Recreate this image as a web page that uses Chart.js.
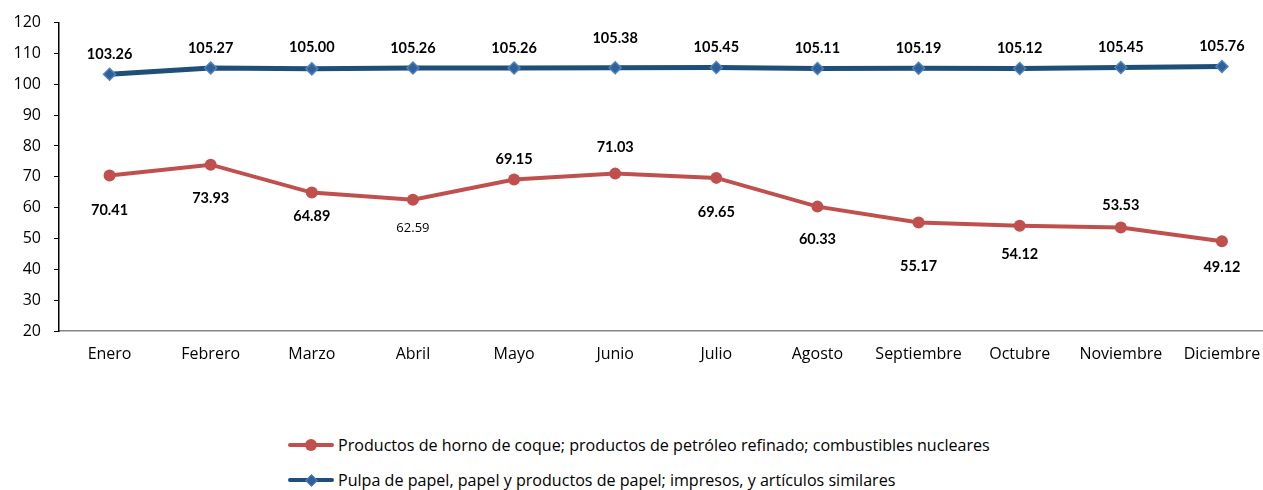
<!DOCTYPE html>
<html><head><meta charset="utf-8">
<script src="https://cdn.jsdelivr.net/npm/chart.js@4.4.0/dist/chart.umd.min.js"></script>
<style>
html,body{margin:0;padding:0;background:#fff;overflow:hidden;width:1263px;height:490px;}
#wrap{position:absolute;left:0;top:0;width:1280px;height:370px;}
#legend{position:absolute;left:288px;top:427px;font-family:"Open Sans","Liberation Sans",sans-serif;font-size:16.1px;color:#000;}
.item{display:flex;align-items:center;height:35px;}
.sym{position:relative;width:50px;height:14px;margin-right:0px;}
.sym .ln{position:absolute;left:0;top:5px;width:46px;height:4px;border-radius:2px;}
.sym .mk{position:absolute;}
</style></head>
<body>
<div id="wrap"><canvas id="c" width="1280" height="370"></canvas></div>
<div id="legend">
  <div class="item"><div class="sym"><div class="ln" style="background:#C0504D"></div><div class="mk" style="left:17px;top:1px;width:12px;height:12px;border-radius:6px;background:#C0504D"></div></div><span id="l0"></span></div>
  <div class="item"><div class="sym"><div class="ln" style="background:#1F4E79"></div><div class="mk" style="left:19px;top:3px;width:7px;height:7px;transform:rotate(45deg);background:#2E6199;border:1px solid #4F81BD"></div></div><span id="l1"></span></div>
</div>
<script>
const categories = ["Enero","Febrero","Marzo","Abril","Mayo","Junio","Julio","Agosto","Septiembre","Octubre","Noviembre","Diciembre"];
const seriesNames = ["Productos de horno de coque; productos de petróleo refinado; combustibles nucleares","Pulpa de papel, papel y productos de papel; impresos, y artículos similares"];
const petroleo = [70.41,73.93,64.89,62.59,69.15,71.03,69.65,60.33,55.17,54.12,53.53,49.12];
const papel = [103.26,105.27,105.00,105.26,105.26,105.38,105.45,105.11,105.19,105.12,105.45,105.76];
const yTicks = [20,30,40,50,60,70,80,90,100,110,120];

// label placement (style, not data)
const petroleoLabelOffsets = [35,34,24,29,-20,-26,34,33,44,29,-22,26];
const papelLabelOffsets = [-20,-20,-22,-20,-20,-29,-20,-20,-20,-20,-20,-20];

document.getElementById('l0').textContent = seriesNames[0];
document.getElementById('l1').textContent = seriesNames[1];

const FONT = 'Lato, "Liberation Sans", sans-serif';
const AXFONT = '"Open Sans", "Liberation Sans", sans-serif';

const labelPlugin = {
  id:'vlabels',
  afterDatasetsDraw(chart){
    const ctx = chart.ctx;
    ctx.save();
    ctx.fillStyle = '#000';
    ctx.textAlign = 'center';
    ctx.textBaseline = 'middle';
    chart.data.datasets.forEach((ds, di) => {
      const meta = chart.getDatasetMeta(di);
      const offs = ds.labelOffsets;
      meta.data.forEach((pt, i) => {
        const small = ds.smallLabels && ds.smallLabels.includes(i);
        ctx.font = small ? ('13px ' + AXFONT) : ('bold 14.5px ' + FONT);
        ctx.fillText(ds.data[i].toFixed(2), pt.x, pt.y + offs[i]);
      });
    });
    ctx.restore();
  }
};

new Chart(document.getElementById('c'), {
  type:'line',
  data:{
    labels: categories,
    datasets:[
      {label:seriesNames[0], data:petroleo, borderColor:'#C0504D', backgroundColor:'#C0504D', borderWidth:4,
       pointStyle:'circle', pointRadius:6, pointBorderWidth:0, labelOffsets:petroleoLabelOffsets, smallLabels:[3], tension:0},
      {label:seriesNames[1], data:papel, borderColor:'#1F4E79', backgroundColor:'#2E6199', pointBorderColor:'#4F81BD', borderWidth:5,
       pointStyle:'rectRot', pointRadius:6, pointBorderWidth:1.5, labelOffsets:papelLabelOffsets, tension:0}
    ]
  },
  options:{
    responsive:false, animation:false, devicePixelRatio:1,
    layout:{padding:{top:21,right:4,left:0,bottom:0}},
    plugins:{legend:{display:false}, tooltip:{enabled:false}, title:{display:false}},
    scales:{
      x:{
        offset:true,
        grid:{display:false, drawOnChartArea:false, drawTicks:false},
        border:{display:true, color:'#868686', width:1.5},
        ticks:{color:'#000', font:{family:AXFONT, size:16}, padding:14, maxRotation:0, autoSkip:false},
        afterFit(s){ s.height = 39; }
      },
      y:{
        min:20, max:120,
        afterBuildTicks(s){ s.ticks = yTicks.map(v=>({value:v})); },
        grid:{drawOnChartArea:false, drawTicks:true, tickLength:5, color:'#000'},
        border:{display:true, color:'#000', width:1.5},
        ticks:{color:'#000', font:{family:AXFONT, size:16}, padding:13},
        afterFit(s){ s.width = 59; }
      }
    }
  },
  plugins:[labelPlugin]
});
</script>
</body></html>
